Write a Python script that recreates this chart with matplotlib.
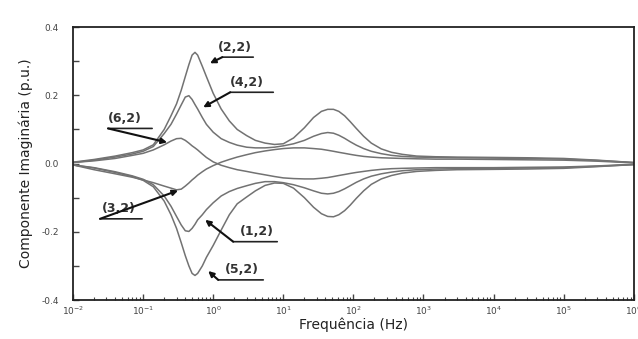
import matplotlib
matplotlib.use("Agg")
import matplotlib.pyplot as plt
from matplotlib.ticker import MultipleLocator, LogLocator

plt.rcParams['font.family'] = ['DejaVu Sans']
plt.rcParams['mathtext.default'] = 'regular'

# frequency samples (Hz)
freq = [0.01, 0.02, 0.04, 0.07, 0.1, 0.14, 0.2, 0.25, 0.3, 0.35, 0.4, 0.45, 0.5,
        0.55, 0.6, 0.7, 0.8, 1.0, 1.3, 1.7, 2.2, 3, 4, 5.5, 7.5, 10, 14, 20, 27,
        35, 43, 52, 62, 75, 90, 110, 140, 180, 250, 350, 500, 800, 1500, 3000,
        1e4, 3e4, 1e5, 3e5, 1e6]

im_22 = [0.004, 0.012, 0.022, 0.032, 0.040, 0.055, 0.100, 0.140, 0.175, 0.215, 0.255,
         0.290, 0.318, 0.326, 0.318, 0.285, 0.255, 0.206, 0.160, 0.125, 0.100, 0.082,
         0.068, 0.060, 0.056, 0.058, 0.075, 0.105, 0.135, 0.153, 0.159, 0.159, 0.153,
         0.140, 0.123, 0.103, 0.080, 0.060, 0.043, 0.033, 0.027, 0.022, 0.020, 0.019,
         0.018, 0.017, 0.015, 0.010, 0.003]
im_42 = [0.003, 0.010, 0.019, 0.028, 0.036, 0.050, 0.088, 0.115, 0.145, 0.172, 0.195,
         0.199, 0.188, 0.173, 0.160, 0.135, 0.115, 0.092, 0.073, 0.062, 0.054, 0.048,
         0.046, 0.046, 0.048, 0.052, 0.058, 0.068, 0.080, 0.088, 0.091, 0.089, 0.083,
         0.074, 0.064, 0.054, 0.044, 0.036, 0.029, 0.024, 0.021, 0.019, 0.018, 0.017,
         0.016, 0.015, 0.013, 0.009, 0.003]
im_62 = [0.003, 0.008, 0.015, 0.024, 0.030, 0.040, 0.055, 0.066, 0.073, 0.074, 0.068,
         0.060, 0.052, 0.046, 0.040, 0.028, 0.018, 0.005, -0.005, -0.012, -0.018, -0.023,
         -0.028, -0.033, -0.038, -0.042, -0.044, -0.045, -0.045, -0.043, -0.041, -0.038,
         -0.035, -0.032, -0.029, -0.026, -0.023, -0.020, -0.017, -0.015, -0.014, -0.013,
         -0.012, -0.012, -0.012, -0.011, -0.010, -0.007, -0.002]
im_32 = [-0.004, -0.018, -0.030, -0.040, -0.048, -0.056, -0.066, -0.072, -0.077, -0.075,
         -0.066, -0.057, -0.048, -0.041, -0.034, -0.024, -0.016, -0.006, 0.004, 0.012,
         0.019, 0.026, 0.032, 0.037, 0.041, 0.044, 0.046, 0.046, 0.044, 0.042, 0.039,
         0.036, 0.033, 0.030, 0.027, 0.024, 0.021, 0.019, 0.017, 0.016, 0.015, 0.014,
         0.013, 0.013, 0.012, 0.011, 0.010, 0.007, 0.002]
im_12 = [-0.004, -0.012, -0.024, -0.036, -0.046, -0.062, -0.095, -0.125, -0.155, -0.180,
         -0.197, -0.199, -0.190, -0.178, -0.165, -0.150, -0.135, -0.115, -0.095, -0.082,
         -0.073, -0.065, -0.058, -0.053, -0.053, -0.056, -0.062, -0.071, -0.080, -0.087,
         -0.089, -0.087, -0.082, -0.074, -0.065, -0.055, -0.045, -0.037, -0.030, -0.025,
         -0.021, -0.018, -0.016, -0.015, -0.014, -0.013, -0.012, -0.008, -0.003]
im_52 = [-0.004, -0.013, -0.026, -0.038, -0.049, -0.068, -0.110, -0.150, -0.190, -0.232,
         -0.270, -0.300, -0.322, -0.328, -0.322, -0.300, -0.275, -0.240, -0.195, -0.150,
         -0.118, -0.098, -0.080, -0.064, -0.057, -0.058, -0.072, -0.100, -0.128, -0.147,
         -0.155, -0.156, -0.150, -0.138, -0.122, -0.102, -0.080, -0.061, -0.045, -0.035,
         -0.028, -0.023, -0.020, -0.018, -0.017, -0.016, -0.014, -0.009, -0.003]

curves = [im_22, im_42, im_62, im_32, im_12, im_52]

x_ticks = [1e-2, 1e-1, 1e0, 1e1, 1e2, 1e3, 1e4, 1e5, 1e6]
x_ticklabels = ['$10^{-2}$', '$10^{-1}$', '$10^{0}$', '$10^{1}$', '$10^{2}$',
                '$10^{3}$', '$10^{4}$', '$10^{5}$', '$10^{6}$']

# label, text pos, underline (x1, x2, y), arrow tip
labels = [
    ("(2,2)", (1.18, 0.322), (1.35, 3.73, 0.312), (0.90, 0.294)),
    ("(4,2)", (1.75, 0.219), (1.75, 7.2, 0.209), (0.72, 0.165)),
    ("(6,2)", (0.0316, 0.113), (0.0316, 0.1346, 0.103), (0.22, 0.062)),
    ("(3,2)", (0.026, -0.152), (0.0243, 0.0968, -0.162), (0.316, -0.079)),
    ("(1,2)", (2.43, -0.219), (1.93, 8.2, -0.229), (0.769, -0.165)),
    ("(5,2)", (1.48, -0.331), (1.18, 5.18, -0.341), (0.849, -0.315)),
]

fig = plt.figure(figsize=(6.38, 3.39), dpi=100)
ax = fig.add_axes([0.1144, 0.115, 0.879, 0.805])

for c in curves:
    ax.plot(freq, c, color='#727272', lw=1.1)

ax.set_xscale('log')
ax.set_xlim(1e-2, 1e6)
ax.set_ylim(-0.4, 0.4)
ax.set_xticks(x_ticks)
ax.set_xticklabels(x_ticklabels)
ax.set_yticks([-0.4, -0.2, 0.0, 0.2, 0.4])
ax.set_yticklabels(['-0.4', '-0.2', '0.0', '0.2', '0.4'])
ax.yaxis.set_minor_locator(MultipleLocator(0.1))
ax.xaxis.set_minor_locator(LogLocator(base=10, subs=range(2, 10), numticks=100))

ax.tick_params(which='both', direction='in', colors='#444444', labelsize=6.5)
ax.tick_params(which='major', length=4, width=1)
ax.tick_params(which='minor', length=2.5, width=0.8)
ax.tick_params(axis='y', which='minor', length=4, width=1)
ax.tick_params(axis='x', pad=3)
ax.tick_params(axis='y', pad=10)
for s in ax.spines.values():
    s.set_linewidth(1.3)
    s.set_color('#222222')

ax.set_xlabel('Frequência (Hz)', fontsize=10, color='#222222', labelpad=1)
ax.set_ylabel('Componente Imaginária (p.u.)', fontsize=10, color='#222222', labelpad=6)

for text, tpos, uline, tip in labels:
    ax.text(tpos[0], tpos[1], text, fontsize=9, fontweight='bold', color='#333333',
            ha='left', va='bottom')
    ax.annotate('', xy=(uline[1], uline[2]), xytext=(uline[0], uline[2]),
                arrowprops=dict(arrowstyle='-', color='#222222', lw=1.2,
                                shrinkA=0, shrinkB=0))
    ax.annotate('', xy=tip, xytext=(uline[0], uline[2]),
                arrowprops=dict(arrowstyle='-|>', color='#111111', lw=1.5,
                                mutation_scale=8, shrinkA=0, shrinkB=0))

fig.savefig('out.png', dpi=100)
